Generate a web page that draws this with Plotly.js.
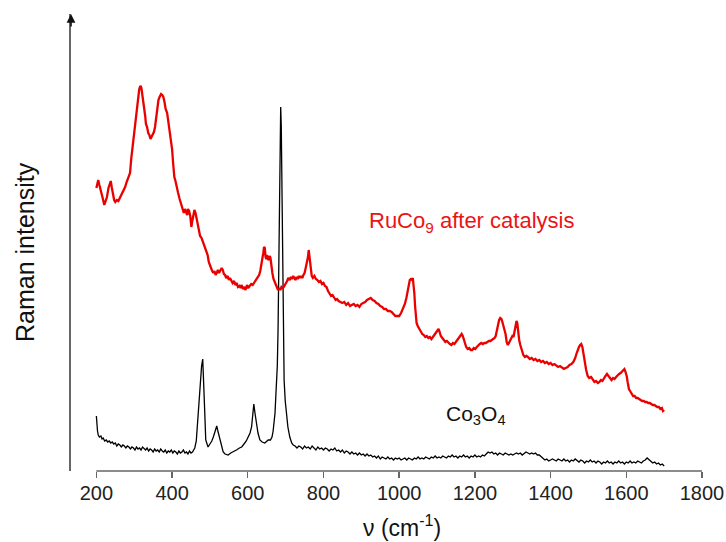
<!DOCTYPE html>
<html>
<head>
<meta charset="utf-8">
<script src="https://cdn.plot.ly/plotly-3.0.1.min.js"></script>
<style>html,body{margin:0;padding:0;background:#fff;}#chart{width:726px;height:542px;}</style>
</head>
<body>
<div id="chart"></div>
<script>
// Raman shift (cm^-1) and intensity (arb. units)
const ruCoShift = [200,203,205,208,212,216,221,224,228,232,235,238,241,244,247,250,254,258,262,266,270,273,276,280,283,286,289,292,295,297,300,303,305,307,310,313,315,317,319,321,323,326,329,331,334,337,340,343,346,349,352,355,358,361,364,367,371,374,377,380,383,387,390,393,397,400,403,406,409,412,416,420,424,428,431,434,437,440,442,445,448,451,453,456,459,462,465,468,471,474,478,481,484,487,491,494,497,500,503,506,509,512,515,518,521,524,527,531,534,537,540,543,547,550,553,557,560,564,567,571,574,578,581,584,587,591,594,598,601,605,609,613,616,620,623,627,630,633,636,639,641,643,645,647,649,651,654,656,658,660,662,665,668,671,674,677,680,683,686,689,692,695,698,701,704,707,711,714,717,720,723,726,729,732,735,738,741,744,747,750,753,756,759,761,763,765,767,769,772,776,780,784,788,792,796,800,804,808,812,816,820,824,828,832,836,840,845,850,855,860,865,870,875,880,885,890,895,900,905,910,915,920,925,930,935,940,945,950,955,960,965,970,975,980,985,990,995,1000,1005,1010,1015,1019,1022,1025,1028,1031,1034,1036,1038,1040,1042,1044,1046,1049,1053,1057,1061,1065,1069,1073,1077,1081,1085,1089,1093,1097,1101,1104,1107,1110,1114,1118,1122,1126,1130,1134,1138,1142,1146,1150,1154,1158,1162,1165,1168,1171,1174,1177,1181,1185,1189,1193,1197,1201,1205,1209,1213,1217,1221,1225,1229,1233,1237,1241,1245,1249,1252,1255,1258,1261,1264,1267,1270,1272,1275,1278,1281,1284,1287,1290,1293,1296,1299,1302,1305,1308,1310,1312,1314,1317,1320,1324,1328,1332,1336,1340,1345,1350,1355,1360,1365,1370,1375,1380,1385,1390,1395,1400,1405,1410,1415,1420,1425,1430,1435,1440,1445,1450,1455,1460,1465,1469,1472,1475,1478,1481,1484,1487,1490,1494,1498,1502,1507,1512,1516,1520,1525,1529,1533,1537,1541,1545,1549,1553,1557,1561,1565,1569,1573,1577,1581,1585,1589,1592,1595,1598,1601,1604,1607,1610,1614,1618,1622,1626,1630,1634,1638,1642,1646,1650,1654,1658,1662,1666,1670,1674,1678,1682,1686,1690,1694,1697,1700];
const ruCoIntensity = [283,288,291,286,281,274,266,270,274,283,287,290,283,276,271,269,271,270,273,276,279,282,284,289,292,294,298,312,322,328,342,354,360,364,375,381,384,385,383,378,370,364,355,347,344,338,336,332,334,337,339,344,355,364,371,374,377,376,374,369,362,358,350,342,334,322,307,294,290,286,278,272,266,263,258,262,259,256,262,260,255,244,249,255,261,258,252,244,240,235,233,230,226,224,221,216,209,205,203,200,198,200,196,198,201,198,200,203,201,197,196,193,195,191,193,189,188,190,186,188,184,185,183,186,182,184,181,186,183,185,187,186,188,190,192,195,196,200,206,212,218,224,223,214,212,216,211,212,215,213,204,198,192,189,185,182,181,183,181,184,183,184,186,187,190,193,191,194,192,195,193,191,194,192,195,193,195,193,196,198,203,208,214,221,213,205,199,195,193,195,192,191,189,190,187,188,185,184,180,177,175,176,173,171,172,170,169,168,169,166,168,165,166,167,165,166,164,167,168,169,171,172,173,171,170,168,167,165,164,162,162,160,160,159,157,155,155,155,158,162,167,173,180,186,191,192,191,193,188,178,165,155,148,145,142,139,137,136,134,135,133,134,132,134,136,138,141,142,139,135,133,131,129,130,128,127,126,128,127,129,131,134,136,137,135,131,127,124,122,123,121,121,123,122,124,126,127,128,127,128,128,129,130,130,131,132,133,135,140,147,151,153,152,150,146,141,137,129,126,128,131,134,135,134,140,147,150,148,140,131,126,121,116,114,115,114,112,113,111,112,110,111,109,110,108,109,107,108,106,107,105,104,105,103,102,103,104,106,107,109,113,118,122,124,126,127,124,117,109,101,95,93,94,91,89,90,88,89,91,90,93,95,97,95,92,91,93,92,94,96,97,98,100,101,102,99,95,88,82,80,78,75,75,73,73,72,71,70,70,69,69,68,68,67,66,66,65,64,64,62,63,60,61];

const co3o4Shift = [200,201,203,205,208,212,215,218,222,226,230,234,238,242,246,250,254,258,262,266,270,274,278,282,286,290,294,298,302,306,310,314,318,322,326,330,334,338,342,346,350,354,358,362,366,370,374,378,382,386,390,394,398,402,406,410,414,418,422,426,430,434,438,442,446,450,454,457,460,464,469,472,475,478,481,482.5,484,486,489,492,495,500,505,509,513,516,518,521,525,530,535,540,548,555,561,570,578,584,590,596,601,606,610,613,616,619,623,627,632,638,645,650,654,660,664,667,670,672,674,676,678,680,682,684,685.5,687,688.5,690,691.5,693,694.5,696,699,702,706,711,716,720,725,730,735,740,745,750,755,760,765,770,775,780,785,790,795,800,805,810,815,820,825,830,835,840,845,850,855,860,865,870,875,880,885,890,895,900,905,910,915,920,925,930,935,940,945,950,955,960,965,970,975,980,985,990,995,1000,1005,1010,1015,1020,1025,1030,1035,1040,1045,1050,1055,1060,1065,1070,1075,1080,1085,1090,1095,1100,1105,1110,1115,1120,1125,1130,1135,1140,1145,1150,1155,1160,1165,1170,1175,1180,1185,1190,1195,1200,1205,1210,1215,1220,1225,1230,1235,1240,1245,1250,1255,1260,1265,1270,1275,1280,1285,1290,1295,1300,1305,1310,1315,1320,1325,1330,1335,1340,1345,1350,1355,1360,1365,1370,1375,1380,1385,1390,1395,1400,1405,1410,1415,1420,1425,1430,1435,1440,1445,1450,1455,1460,1465,1470,1475,1480,1485,1490,1495,1500,1505,1510,1515,1520,1525,1530,1535,1540,1545,1550,1555,1560,1565,1570,1575,1580,1585,1590,1595,1600,1605,1610,1615,1620,1625,1630,1635,1640,1645,1650,1655,1660,1665,1670,1675,1680,1685,1690,1695,1700];
const co3o4Intensity = [55,48,40,36,34,35,32,33,30,31,29,30,28,29,27,28,25,27,26,24,26,25,23,25,24,22,24,23,21,24,22,23,21,24,22,21,23,20,22,21,19,22,20,21,19,22,20,19,21,18,20,19,21,18,20,19,17,20,18,19,21,18,19,17,20,18,19,21,23,30,58,75,91,105,112,100,91,62,31,26,24,27,30,34,40,43,45,40,34,24,19,17,16,18,19,21,23,24,27,30,34,38,44,55,67,58,48,38,31,29,28,30,31,31,34,40,50,58,74,88,105,141,195,270,330,364,345,280,200,141,110,91,70,58,44,34,28,26,25,23,25,24,22,25,23,24,22,25,23,21,24,22,23,21,23,22,20,22,21,23,20,21,19,21,18,20,19,17,19,17,18,16,18,16,17,15,17,15,16,14,15,13,15,12,14,13,12,14,12,13,11,13,12,13,11,12,13,11,13,12,11,13,12,14,12,13,12,14,13,12,14,13,15,13,14,13,15,14,13,15,14,16,14,15,13,15,14,16,14,15,13,15,14,16,14,15,14,16,15,17,19,18,19,17,18,16,18,17,16,18,17,16,17,16,17,18,17,18,16,18,19,18,17,18,17,18,16,16,14,12,11,12,10,11,12,11,10,12,11,10,12,10,11,9,11,10,12,10,9,11,10,8,10,9,11,9,10,8,10,9,7,9,8,10,8,9,7,9,8,10,8,9,7,9,8,10,8,9,8,10,9,8,10,11,13,11,9,8,9,7,8,6,7,5];

const xTickVals = [200,400,600,800,1000,1200,1400,1600,1800];
const xTickText = ['200','400','600','800','1000','1200','1400','1600','1800'];

const traces = [
  {x: co3o4Shift, y: co3o4Intensity, type: 'scatter', mode: 'lines',
   line: {color: '#000000', width: 1.3}, hoverinfo: 'skip'},
  {x: ruCoShift, y: ruCoIntensity, type: 'scatter', mode: 'lines',
   line: {color: 'rgb(235,0,0)', width: 2.3}, hoverinfo: 'skip'}
];

const layout = {
  width: 726, height: 542,
  margin: {l: 71, r: 24, t: 14, b: 71},
  paper_bgcolor: '#ffffff', plot_bgcolor: '#ffffff',
  showlegend: false,
  font: {family: 'Liberation Sans, Arial, sans-serif', color: '#222'},
  xaxis: {
    range: [133, 1800], showgrid: false, zeroline: false, showline: false,
    tickmode: 'array', tickvals: xTickVals, ticktext: xTickText,
    ticks: 'outside', ticklen: 6, tickwidth: 1.4, tickcolor: '#666',
    ticklabelstandoff: -2,
    tickfont: {size: 20, family: 'Liberation Sans, Arial, sans-serif', color: '#222'}
  },
  yaxis: {
    range: [0, 457], showgrid: false, zeroline: false, showticklabels: false,
    ticks: '', showline: true, linecolor: '#666', linewidth: 1.6
  },
  shapes: [
    {type: 'line', xref: 'x', yref: 'paper', x0: 200, x1: 1800, y0: 0, y1: 0,
     line: {color: '#666', width: 1.4}}
  ],
  annotations: [
    {xref: 'paper', yref: 'paper', x: 0, y: 1, ax: 0, ay: 14, axref: 'pixel', ayref: 'pixel',
     showarrow: true, arrowhead: 2, arrowsize: 1.1, arrowwidth: 1.6, arrowcolor: '#111', text: ''},
    {xref: 'paper', yref: 'paper', x: -0.073, y: 0.479, text: 'Raman intensity', textangle: -90,
     showarrow: false, font: {size: 25, color: '#111'}, xanchor: 'center', yanchor: 'middle'},
    {xref: 'paper', yref: 'paper', x: 0.524, y: -0.12, text: 'ν (cm<sup>-1</sup>)',
     showarrow: false, font: {size: 23, color: '#111'}, xanchor: 'center', yanchor: 'middle'},
    {xref: 'x', yref: 'y', x: 915, y: 249, text: 'RuCo<sub>9</sub> after catalysis',
     showarrow: false, font: {size: 22, color: 'rgb(235,20,20)'}, xanchor: 'left', yanchor: 'middle'},
    {xref: 'x', yref: 'y', x: 1118, y: 56, text: 'Co<sub>3</sub>O<sub>4</sub>',
     showarrow: false, font: {size: 21, color: '#111'}, xanchor: 'left', yanchor: 'middle'}
  ]
};

Plotly.newPlot('chart', traces, layout, {staticPlot: true, displayModeBar: false});
</script>
</body>
</html>
